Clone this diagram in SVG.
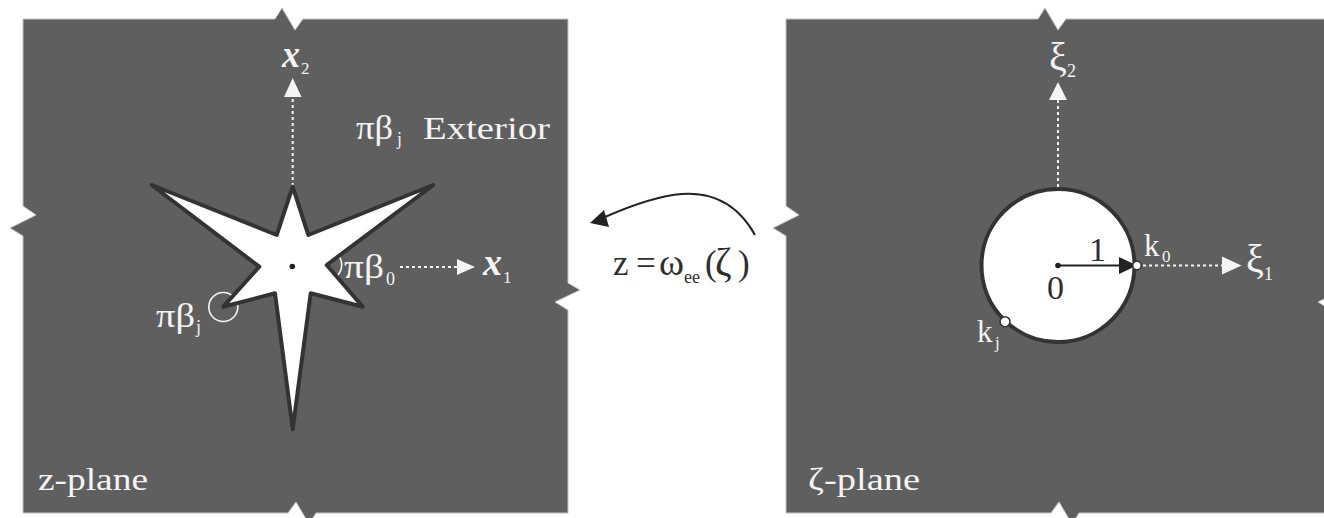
<svg xmlns="http://www.w3.org/2000/svg" width="1324" height="518" viewBox="0 0 1324 518">
<style>
text{font-family:"Liberation Serif","DejaVu Serif",serif;}
.panel{fill:#5f5f5f;stroke:#c4c4c4;stroke-width:1;}
.lbl{fill:#f4f4f4;}
.dark{fill:#2e2e2e;}
.bi{font-style:italic;font-weight:bold;}
.dot{fill:none;stroke:#f4f4f4;stroke-width:2;stroke-dasharray:3 3;}
.ahw{fill:#f4f4f4;}
.shape{fill:#ffffff;stroke:#333333;stroke-width:4;stroke-linejoin:round;}
.ring{fill:none;stroke:#f4f4f4;stroke-width:1.6;}
</style>
<rect width="1324" height="518" fill="#ffffff"/>

<g id="z-plane">
<polygon class="panel" points="23,19 275,19 282,8 295,30 303,19 568,19 568,283 580,290 555,302 568,310 568,513 316,513 309,524 296,502 288,513 23,513 23,236 10,228 36,215 23,206"/>
<line class="dot" x1="292.7" y1="186" x2="292.7" y2="97"/>
<polygon class="ahw" points="292.7,78 284,97 301.5,97"/>
<text class="lbl bi" x="282" y="67" font-size="38" textLength="18" lengthAdjust="spacingAndGlyphs">x</text>
<text class="lbl" x="301" y="74" font-size="17">2</text>
<line class="dot" x1="400" y1="267" x2="457" y2="267"/>
<polygon class="ahw" points="475,267 457,259 457,275"/>
<text class="lbl bi" x="483" y="275" font-size="38" textLength="19" lengthAdjust="spacingAndGlyphs">x</text>
<text class="lbl" x="503" y="283" font-size="17">1</text>
<circle class="ring" cx="223.3" cy="307" r="14.5"/>
<circle class="ring" cx="326.7" cy="265" r="15"/>
<polygon class="shape" points="151.7,185 276.7,235 292.7,186.7 308.3,235 433.3,185 326.7,265 362.7,306.7 310.7,293.3 292.7,429.3 275,293.3 223.3,306.7 259.3,266.7"/>
<circle cx="292.3" cy="266.5" r="2.8" fill="#222"/>
<text class="lbl" x="356" y="139" font-size="34" textLength="37" lengthAdjust="spacingAndGlyphs">πβ</text>
<text class="lbl" x="397" y="145" font-size="18">j</text>
<text class="lbl" x="423" y="139" font-size="32" textLength="127" lengthAdjust="spacingAndGlyphs">Exterior</text>
<text class="lbl" x="344" y="278" font-size="34" textLength="40" lengthAdjust="spacingAndGlyphs">πβ</text>
<text class="lbl" x="386" y="285" font-size="18">0</text>
<text class="lbl" x="156" y="327" font-size="34" textLength="39" lengthAdjust="spacingAndGlyphs">πβ</text>
<text class="lbl" x="196" y="333" font-size="18">j</text>
<text class="lbl" x="38" y="490" font-size="32" textLength="110" lengthAdjust="spacingAndGlyphs">z-plane</text>
</g>

<g id="zeta-plane">
<polygon class="panel" points="786,19 1038,19 1045,8 1058,30 1066,19 1331,19 1331,283 1343,290 1318,302 1331,310 1331,513 1079,513 1072,524 1059,502 1051,513 786,513 786,236 773,228 799,215 786,206"/>
<line class="dot" x1="1058" y1="187" x2="1058" y2="100"/>
<polygon class="ahw" points="1058,82 1049,100 1067,100"/>
<text class="lbl" x="1049" y="70" font-size="40">ξ</text>
<text class="lbl" x="1067" y="77" font-size="18">2</text>
<line class="dot" x1="1143" y1="265.5" x2="1222" y2="265.5"/>
<polygon class="ahw" points="1241.5,265.5 1222,256.5 1222,274.5"/>
<text class="lbl" x="1246" y="272" font-size="40">ξ</text>
<text class="lbl" x="1264" y="280" font-size="18">1</text>
<circle class="shape" cx="1058" cy="265.5" r="76.5"/>
<circle cx="1058" cy="265.5" r="2.8" fill="#222"/>
<line x1="1058" y1="265.5" x2="1122" y2="265.5" stroke="#222" stroke-width="2"/>
<polygon points="1137,265.5 1119,257 1119,274" fill="#222"/>
<circle cx="1137" cy="265.5" r="4.3" fill="#fff" stroke="#333" stroke-width="1.6"/>
<circle cx="1005" cy="321.7" r="5" fill="#fff" stroke="#333" stroke-width="1.6"/>
<text class="dark" x="1089" y="261" font-size="34">1</text>
<text class="dark" x="1047" y="299" font-size="34">0</text>
<text class="lbl" x="1144" y="256" font-size="31">k</text>
<text class="lbl" x="1162" y="262" font-size="17">0</text>
<text class="lbl" x="977" y="342" font-size="31">k</text>
<text class="lbl" x="995" y="348" font-size="17">j</text>
<text class="lbl" x="808" y="490" font-size="32" textLength="112" lengthAdjust="spacingAndGlyphs">ζ-plane</text>
</g>

<g id="mapping-label">
<text class="dark" x="613" y="275" font-size="35">z<tspan x="636">=</tspan><tspan x="659" font-size="38">ω</tspan><tspan x="684" dy="8" font-size="18">ee</tspan><tspan x="705" dy="-8">(</tspan><tspan x="715" font-size="40">ζ</tspan><tspan x="738">)</tspan></text>
</g>

<g id="connectors">
<path d="M755,235 C736,201 708,192 682,194 C656,196 630,206 605,217" fill="none" stroke="#222" stroke-width="2"/>
<polygon points="590,223 604,210 609,227" fill="#222"/>
</g>
</svg>
